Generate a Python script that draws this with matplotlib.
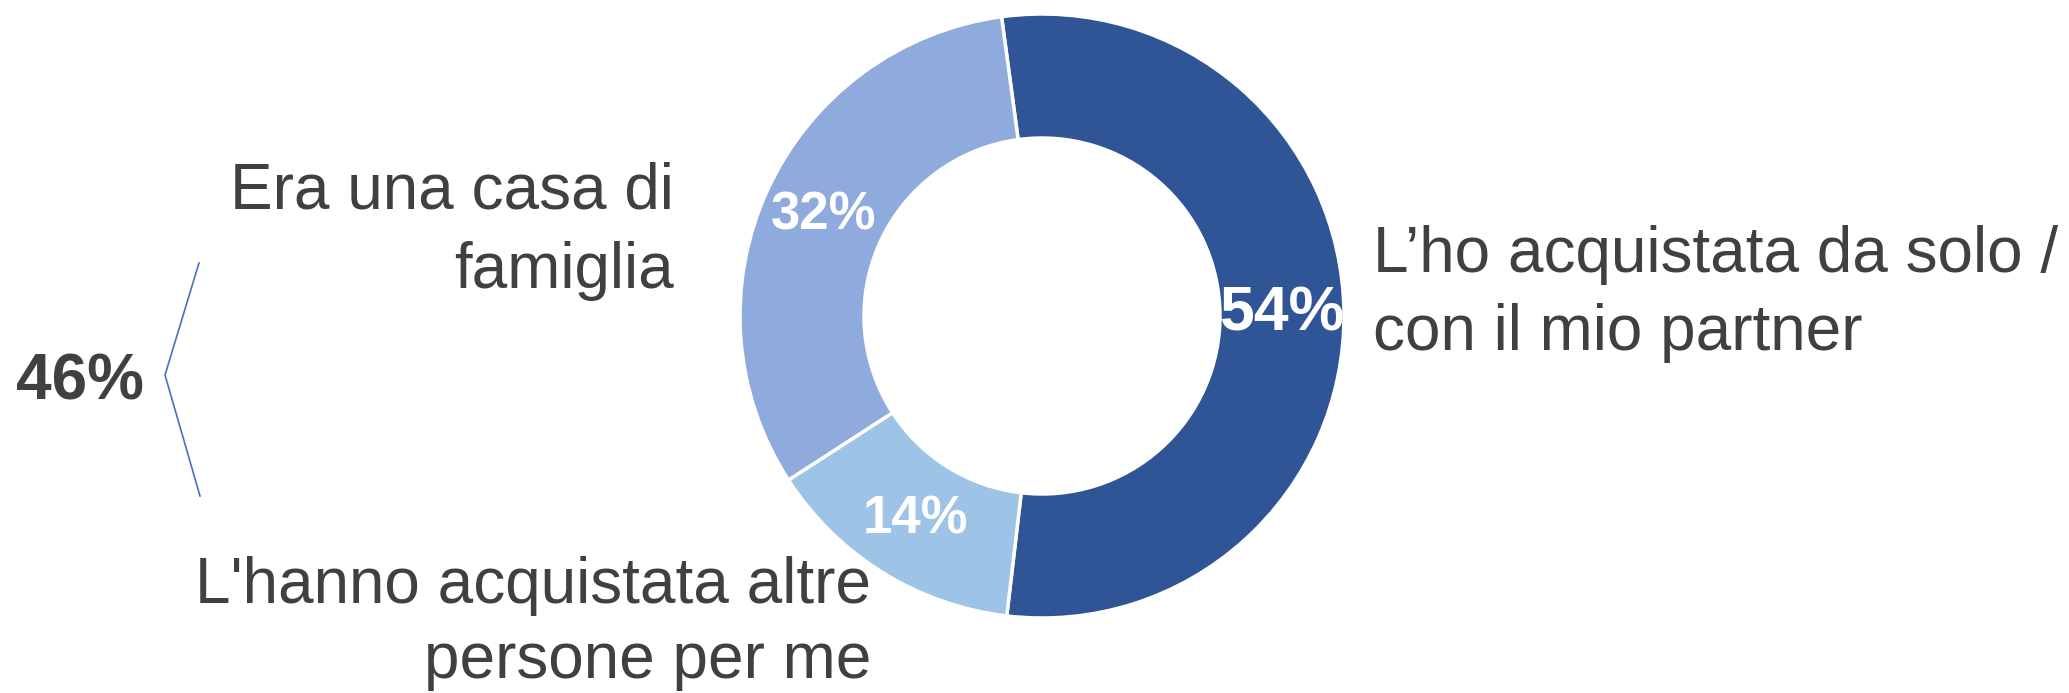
import matplotlib.pyplot as plt
import numpy as np

plt.rcParams["font.family"] = ["Liberation Sans", "DejaVu Sans"]

# data
categories = [
    "L\u2019ho acquistata da solo /\ncon il mio partner",
    "L'hanno acquistata altre\npersone per me",
    "Era una casa di\nfamiglia",
]
shares = [54, 14, 32]
share_labels = ["54%", "14%", "32%"]
colors = ["#2F5597", "#9DC3E6", "#8FAADC"]
group_total = "46%"

TEXT = "#404040"
W, H = 2069, 693

fig = plt.figure(figsize=(W / 100, H / 100), dpi=100)
ax = fig.add_axes([0, 0, 1, 1])

outer_r = 302
ring_w = 124
center = (1042, H - 316)

wedges, _ = ax.pie(
    shares,
    colors=colors,
    startangle=97.7,
    counterclock=False,
    radius=outer_r,
    center=center,
    wedgeprops=dict(width=ring_w, edgecolor="white", linewidth=2.5),
)
ax.set_xlim(0, W)
ax.set_ylim(0, H)
ax.set_aspect("equal")
ax.axis("off")

# percentage labels in the middle of the ring
sizes = [45, 38, 38]
for wdg, lab, fs in zip(wedges, share_labels, sizes):
    ang = np.deg2rad((wdg.theta1 + wdg.theta2) / 2)
    r = outer_r - ring_w / 2
    ax.text(center[0] + r * np.cos(ang), center[1] + r * np.sin(ang), lab,
            ha="center", va="center", color="white", fontsize=fs,
            fontweight="bold")

# category labels (y = baseline of the last line)
ax.text(1373, H - 350, categories[0], ha="left", va="baseline",
        fontsize=46, color=TEXT, linespacing=1.39)
ax.text(871, H - 678, categories[1], ha="right", va="baseline",
        fontsize=46, color=TEXT, linespacing=1.32)
ax.text(674, H - 288, categories[2], ha="right", va="baseline",
        fontsize=46, color=TEXT, linespacing=1.42)

# bracket with the total for the two "other" answers
ax.plot([199, 165, 200], [H - 263, H - 375, H - 496], color="#4472C4",
        lw=1.2, solid_joinstyle="miter")
ax.text(16, H - 400, group_total, ha="left", va="baseline", fontsize=46,
        fontweight="bold", color=TEXT)

fig.savefig("out.png", dpi=100)
